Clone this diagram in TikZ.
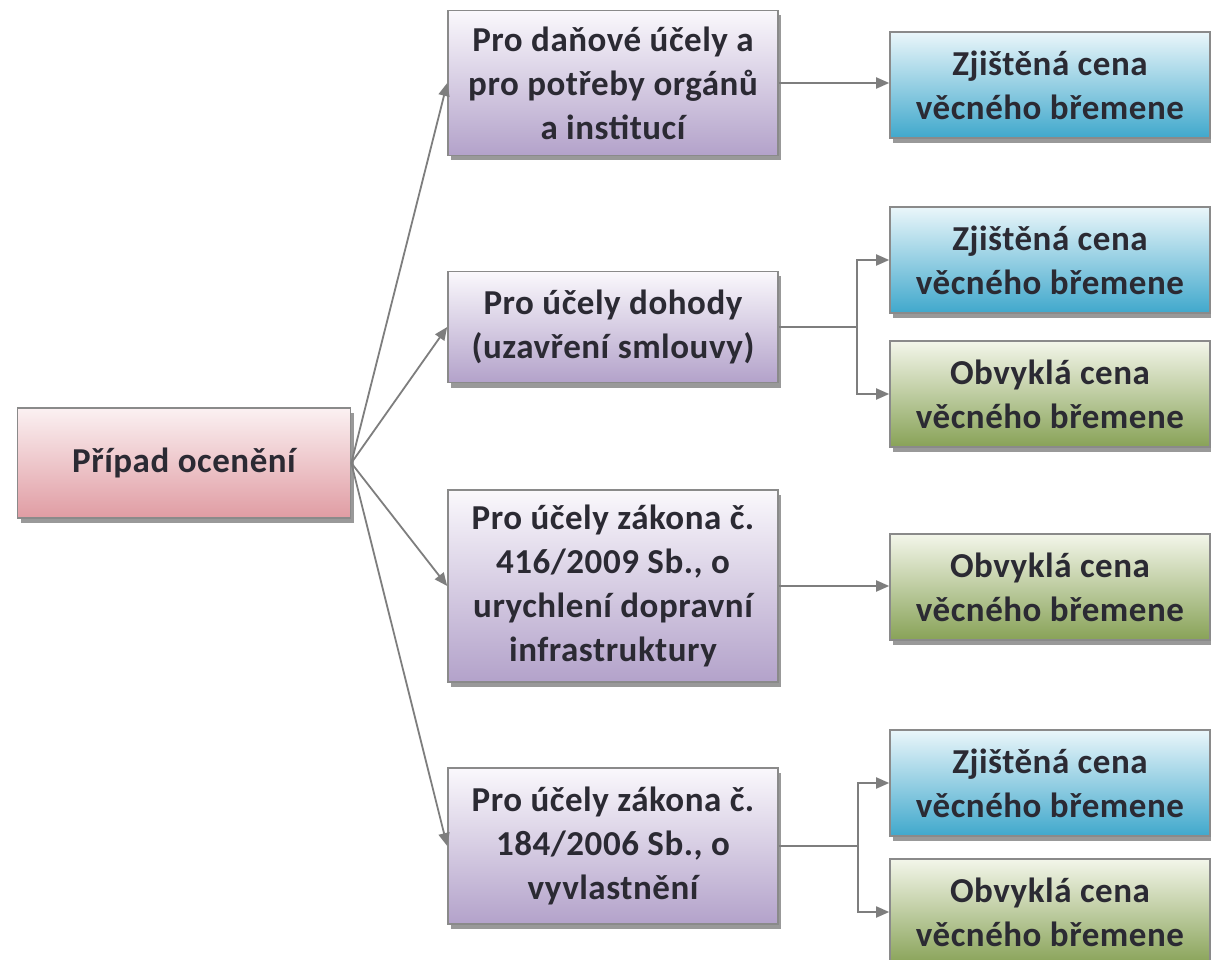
\documentclass[tikz,border=0pt]{standalone}
\usepackage{fontspec}
\setmainfont[LetterSpace=1.5]{Carlito}
\usetikzlibrary{arrows.meta,shadows}
\definecolor{txt}{HTML}{2B2A33}
\definecolor{edge}{HTML}{8A8A8A}
\definecolor{conn}{HTML}{7E7E7E}
\definecolor{rootTop}{HTML}{FBF1F2}
\definecolor{rootBot}{HTML}{E09CA3}
\definecolor{catTop}{HTML}{FAF8FC}
\definecolor{catBot}{HTML}{B3A2CA}
\definecolor{blueTop}{HTML}{EAF6FA}
\definecolor{blueBot}{HTML}{40A8CC}
\definecolor{greenTop}{HTML}{F3F6EA}
\definecolor{greenBot}{HTML}{88A257}
\tikzset{
  box/.style={draw=edge, line width=1.6pt, align=center, text=txt,
    font=\fontsize{35}{44}\selectfont\bfseries, inner sep=0pt,
    drop shadow={shadow xshift=3pt, shadow yshift=-5pt, fill=black, opacity=0.4}},
  rootbox/.style={box, top color=rootTop, bottom color=rootBot, minimum width=333pt, minimum height=110pt},
  catbox/.style={box, top color=catTop, bottom color=catBot, minimum width=330pt},
  bluebox/.style={box, top color=blueTop, bottom color=blueBot, minimum width=320pt, minimum height=106pt},
  greenbox/.style={box, top color=greenTop, bottom color=greenBot, minimum width=320pt, minimum height=106pt},
  conline/.style={draw=conn, line width=1.8pt},
  arr/.style={conline, -{Triangle[length=13pt,width=11pt]}}
}
\begin{document}
\begin{tikzpicture}[x=1pt,y=-1pt]
\useasboundingbox[fill=white] (0,0) rectangle (1211,960);
\node[rootbox] (root) at (184,463) {Případ ocenění};
\node[catbox, minimum height=145pt] (p1) at (613,83) {Pro daňové účely a\\pro potřeby orgánů\\a institucí};
\node[catbox, minimum height=111pt] (p2) at (613,327) {Pro účely dohody\\(uzavření smlouvy)};
\node[catbox, minimum height=192pt] (p3) at (613,586) {Pro účely zákona č.\\416/2009 Sb., o\\urychlení dopravní\\infrastruktury};
\node[catbox, minimum height=156pt] (p4) at (613,846) {Pro účely zákona č.\\184/2006 Sb., o\\vyvlastnění};
\node[bluebox] (r1) at (1050,85) {Zjištěná cena\\věcného břemene};
\node[bluebox] (r2) at (1050,260) {Zjištěná cena\\věcného břemene};
\node[greenbox] (r3) at (1050,394) {Obvyklá cena\\věcného břemene};
\node[greenbox] (r4) at (1050,587) {Obvyklá cena\\věcného břemene};
\node[bluebox] (r5) at (1050,783) {Zjištěná cena\\věcného břemene};
\node[greenbox] (r6) at (1050,912) {Obvyklá cena\\věcného břemene};
\foreach \p in {p1,p2,p3,p4}{\draw[arr] (root.east) -- (\p.west);}
\draw[arr] (p1.east) -- (p1.east -| r1.west);
\draw[arr] (p3.east) -- (p3.east -| r4.west);
\coordinate (b2) at (857,327);
\coordinate (b4) at (858,846);
\draw[conline] (p2.east) -- (b2);
\draw[arr] (b2) |- (r2.west);
\draw[arr] (b2) |- (r3.west);
\draw[conline] (p4.east) -- (b4);
\draw[arr] (b4) |- (r5.west);
\draw[arr] (b4) |- (r6.west);
\end{tikzpicture}
\end{document}
